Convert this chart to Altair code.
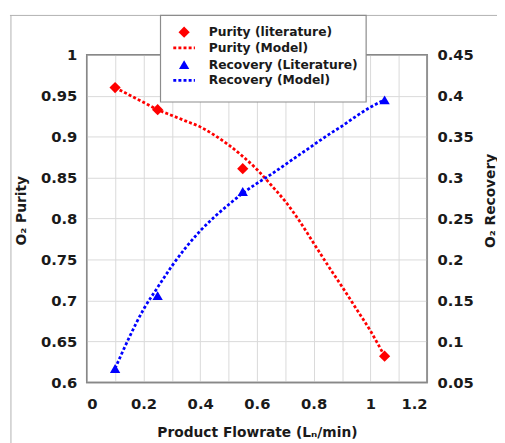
import altair as alt
import pandas as pd

# Literature points
flow_lit = [0.1, 0.25, 0.55, 1.05]
purity_lit = [0.960, 0.933, 0.861, 0.632]
recovery_lit = [0.067, 0.156, 0.283, 0.395]

# Model curves
flow_model = [0.1, 0.15, 0.2, 0.25, 0.3, 0.35, 0.4, 0.45, 0.5, 0.55,
              0.6, 0.65, 0.7, 0.75, 0.8, 0.85, 0.9, 0.95, 1.0, 1.05]
purity_model = [0.960, 0.951, 0.942, 0.933, 0.926, 0.919, 0.912, 0.902, 0.890, 0.876,
                0.860, 0.841, 0.821, 0.797, 0.770, 0.743, 0.717, 0.690, 0.663, 0.632]
recovery_model = [0.067, 0.105, 0.139, 0.166, 0.192, 0.215, 0.235, 0.252, 0.267, 0.281,
                  0.293, 0.304, 0.316, 0.328, 0.340, 0.352, 0.363, 0.375, 0.386, 0.395]

x_ticks = [round(i * 0.1, 1) for i in range(13)]
purity_ticks = [round(0.6 + i * 0.05, 2) for i in range(9)]
recovery_ticks = [round(0.05 + i * 0.05, 2) for i in range(9)]

legend_labels = ["Purity (literature)", "Purity (Model)",
                 "Recovery (Literature)", "Recovery (Model)"]

RED = "#ff0000"
BLUE = "#0000ff"
FONT = "DejaVu Sans"
TXT = "#1a1a1a"
W, H = 346, 333

lit = pd.DataFrame({"flow": flow_lit, "purity": purity_lit, "recovery": recovery_lit})
model = pd.DataFrame({"flow": flow_model, "purity": purity_model, "recovery": recovery_model})

x_axis = alt.Axis(values=x_ticks, title="Product Flowrate (Lₙ/min)",
                  labelExpr="(round(datum.value*10) % 2 == 0) ? format(datum.value, '~g') : ''",
                  grid=True, gridColor="#d9d9d9", gridWidth=1, ticks=False, domain=False,
                  labelFont=FONT, labelFontSize=15, labelFontWeight="bold", labelColor=TXT,
                  labelPadding=15, titleFont=FONT, titleFontSize=14, titleFontWeight="bold",
                  titleColor=TXT, titleY=51, titleBaseline="middle")
x_enc = alt.X("flow:Q", scale=alt.Scale(domain=[0, 1.2], nice=False, zero=False), axis=x_axis)

left_axis = alt.Axis(orient="left", values=purity_ticks, format="~g", title="O₂ Purity",
                     grid=True, gridColor="#d9d9d9", gridWidth=1, ticks=False, domain=False,
                     labelFont=FONT, labelFontSize=15, labelFontWeight="bold", labelColor=TXT,
                     labelPadding=10, titleFont=FONT, titleFontSize=14, titleFontWeight="bold",
                     titleColor=TXT, titleX=-66, titleY=158, titleAngle=270,
                     titleAlign="center", titleBaseline="middle")
right_axis = alt.Axis(orient="right", values=recovery_ticks, format="~g", title="O₂ Recovery",
                      grid=False, ticks=False, domain=False,
                      labelFont=FONT, labelFontSize=15, labelFontWeight="bold", labelColor=TXT,
                      labelPadding=10, titleFont=FONT, titleFontSize=14, titleFontWeight="bold",
                      titleColor=TXT, titleX=64, titleY=148, titleAngle=270,
                      titleAlign="center", titleBaseline="middle")

y_pur = alt.Y("purity:Q", scale=alt.Scale(domain=[0.6, 1.0], nice=False, zero=False), axis=left_axis)
y_rec = alt.Y("recovery:Q", scale=alt.Scale(domain=[0.05, 0.45], nice=False, zero=False), axis=right_axis)

dash = [3, 2.2]
pur_line = alt.Chart(model).mark_line(color=RED, strokeWidth=2.8, strokeDash=dash,
                                      interpolate="monotone").encode(x=x_enc, y=y_pur)
pur_pts = alt.Chart(lit).mark_point(shape="diamond", filled=True, color=RED, size=130,
                                    opacity=1).encode(x=x_enc, y=y_pur)
rec_line = alt.Chart(model).mark_line(color=BLUE, strokeWidth=2.8, strokeDash=dash,
                                      interpolate="monotone").encode(x=x_enc, y=y_rec)
rec_pts = alt.Chart(lit).mark_point(shape="triangle-up", filled=True, color=BLUE, size=110,
                                    opacity=1).encode(x=x_enc, y=y_rec)

purity = alt.layer(pur_line, pur_pts)
recovery = alt.layer(rec_line, rec_pts)

frame_df = pd.DataFrame({"k": [0]})

# Plot-area frame
plot_frame = alt.Chart(frame_df).mark_rect(fill=None, fillOpacity=0, stroke="#888888",
                                           strokeWidth=1.5).encode(
    x=alt.value(0), x2=alt.value(W), y=alt.value(0), y2=alt.value(H))

# Outer image frame (decorative)
frame_top = alt.Chart(frame_df).mark_rule(color="#b0b0b0", strokeWidth=1).encode(
    x=alt.value(-78), x2=alt.value(420), y=alt.value(-40))
frame_left = alt.Chart(frame_df).mark_rule(color="#b0b0b0", strokeWidth=1).encode(
    x=alt.value(-77), y=alt.value(-40), y2=alt.value(395))

# Legend box
leg_box = alt.Chart(frame_df).mark_rect(fill="white", stroke="#8c8c8c", strokeWidth=1.2).encode(
    x=alt.value(75), x2=alt.value(284), y=alt.value(-40), y2=alt.value(48))
rows_y = [-23, -7, 10, 26]
leg_d = alt.Chart(frame_df).mark_point(shape="diamond", filled=True, color=RED, size=130,
                                       opacity=1).encode(x=alt.value(99), y=alt.value(rows_y[0]))
leg_l1 = alt.Chart(frame_df).mark_rule(color=RED, strokeWidth=2.8, strokeDash=dash).encode(
    x=alt.value(88), x2=alt.value(110), y=alt.value(rows_y[1]))
leg_t = alt.Chart(frame_df).mark_point(shape="triangle-up", filled=True, color=BLUE, size=110,
                                       opacity=1).encode(x=alt.value(99), y=alt.value(rows_y[2]))
leg_l2 = alt.Chart(frame_df).mark_rule(color=BLUE, strokeWidth=2.8, strokeDash=dash).encode(
    x=alt.value(88), x2=alt.value(110), y=alt.value(rows_y[3]))
leg_texts = [
    alt.Chart(frame_df).mark_text(text=lab, align="left", baseline="middle", font=FONT,
                                  fontSize=12.5, fontWeight="bold", color=TXT).encode(
        x=alt.value(124), y=alt.value(yy))
    for lab, yy in zip(legend_labels, rows_y)
]

main = alt.layer(purity, recovery).resolve_scale(y="independent")

chart = alt.layer(plot_frame, main, frame_top, frame_left, leg_box, leg_d, leg_l1, leg_t, leg_l2,
                  *leg_texts).properties(
    width=W, height=H,
    autosize=alt.AutoSizeParams(type="none"),
    padding={"left": 80, "top": 44, "right": 71, "bottom": 58},
).configure(background="white").configure_view(stroke="#888888", strokeWidth=1.5)

chart.save("out.html", embed_options={"renderer": "svg", "actions": False})
